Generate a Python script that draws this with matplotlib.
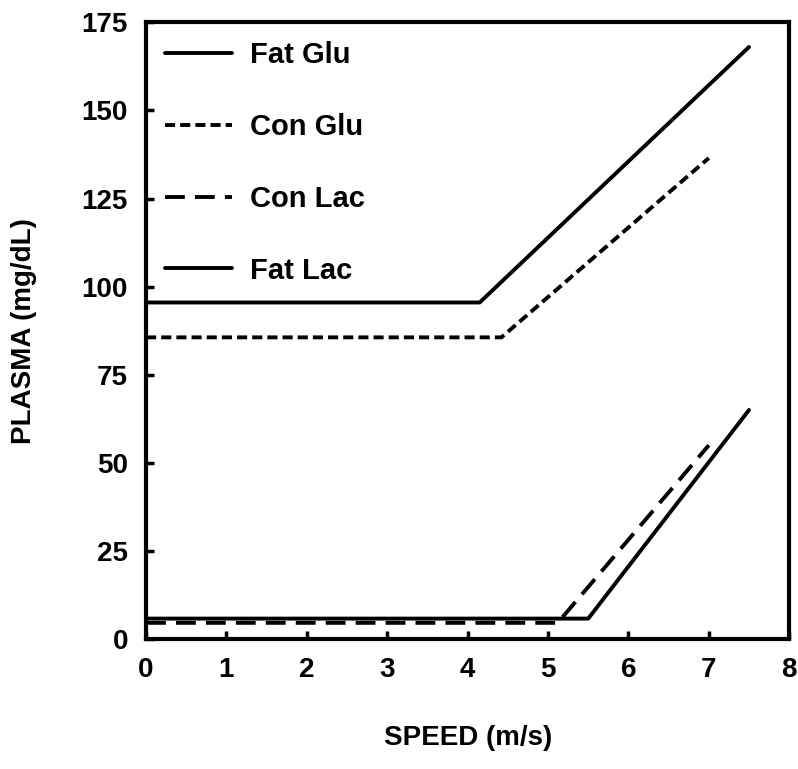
import matplotlib
matplotlib.use("Agg")
import matplotlib.pyplot as plt

# speed (m/s) breakpoints and plasma values (mg/dL)
fat_glu_x = [0, 4.15, 7.5]
fat_glu_y = [95.5, 95.5, 168]
con_glu_x = [0, 4.42, 7.0]
con_glu_y = [85.6, 85.6, 136.5]
con_lac_x = [0, 5.12, 7.0]
con_lac_y = [4.6, 4.6, 55]
fat_lac_x = [0, 5.5, 7.5]
fat_lac_y = [5.8, 5.8, 65]

x_ticks = [0, 1, 2, 3, 4, 5, 6, 7, 8]
y_ticks = [0, 25, 50, 75, 100, 125, 150, 175]

plt.rcParams['font.family'] = ['Liberation Sans', 'DejaVu Sans']
plt.rcParams['font.weight'] = 'bold'

fig = plt.figure(figsize=(7.98, 7.69), dpi=100)
ax = fig.add_axes([0.183, 0.169, 0.806, 0.802])

lw = 2.8
ax.plot(fat_glu_x, fat_glu_y, color='black', lw=lw, solid_capstyle='round', label='Fat Glu')
ax.plot(con_glu_x, con_glu_y, color='black', lw=lw, linestyle=(0, (2.6, 1.3)), label='Con Glu')
ax.plot(con_lac_x, con_lac_y, color='black', lw=lw, linestyle=(0, (5.1, 2.6)), label='Con Lac')
ax.plot(fat_lac_x, fat_lac_y, color='black', lw=lw, solid_capstyle='round', label='Fat Lac')

ax.set_xlim(0, 8)
ax.set_ylim(0, 175)
ax.set_xticks(x_ticks)
ax.set_yticks(y_ticks)
ax.tick_params(direction='in', length=6, width=2.5, labelsize=20, pad=13)
for s in ax.spines.values():
    s.set_linewidth(3)

ax.set_xlabel('SPEED (m/s)', fontsize=20, fontweight='bold', labelpad=30)
ax.set_ylabel('PLASMA (mg/dL)', fontsize=20, fontweight='bold', labelpad=32)

ax.legend(loc='upper left', frameon=False, fontsize=21, handlelength=2.3,
          labelspacing=1.5, handletextpad=0.6, borderaxespad=0.25)

fig.savefig('out.png', dpi=100)
